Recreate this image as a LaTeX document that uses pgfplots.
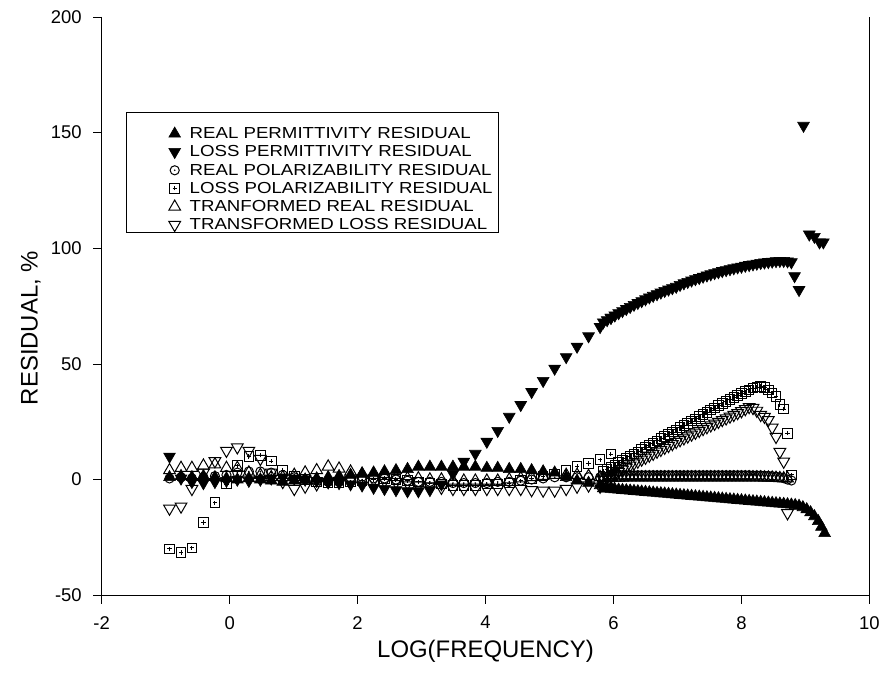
\documentclass[border=0pt]{standalone}
\usepackage{fontspec}
\setmainfont{Liberation Sans}
\newfontfamily\legfont[FakeStretch=1.17]{Liberation Sans}
\usepackage{pgfplots}
\usepackage{pgfplotstable}
\pgfplotsset{compat=1.18}
\pgfdeclareplotmark{odot}{%
  \pgfpathcircle{\pgfpointorigin}{\pgfplotmarksize}\pgfusepathqstroke
  \pgfpathcircle{\pgfpointorigin}{0.9pt}\pgfusepathqfill}
\pgfdeclareplotmark{sqplus}{%
  \pgfpathrectangle{\pgfpoint{-\pgfplotmarksize}{-\pgfplotmarksize}}{\pgfpoint{2\pgfplotmarksize}{2\pgfplotmarksize}}\pgfusepathqstroke
  \pgfpathmoveto{\pgfpoint{-0.45\pgfplotmarksize}{0pt}}\pgfpathlineto{\pgfpoint{0.45\pgfplotmarksize}{0pt}}
  \pgfpathmoveto{\pgfpoint{0pt}{-0.45\pgfplotmarksize}}\pgfpathlineto{\pgfpoint{0pt}{0.45\pgfplotmarksize}}\pgfusepathqstroke}

\pgfplotstableread{
x rp lp rpol lpol tr tl
-0.94 1.0 10.0 0.5 -30.0 4.0 -12.5
-0.76 1.5 0.5 1.0 -31.5 5.0 -11.6
-0.59 1.0 -1.0 0.5 -29.5 5.0 -4.0
-0.41 1.5 -1.5 1.0 -18.5 6.0 3.0
-0.23 1.0 -1.0 1.5 -10.0 6.5 8.0
-0.05 0.5 -0.5 2.0 -2.0 5.0 12.5
0.12 0.0 0.0 3.0 6.0 5.0 14.0
0.30 0.5 -0.5 3.5 10.0 3.0 12.5
0.48 0.0 0.0 3.5 10.5 2.0 9.0
0.65 -0.5 0.5 3.0 8.0 1.0 3.0
0.83 -1.0 1.0 2.0 4.0 1.0 -1.0
1.01 -0.5 0.5 1.0 1.5 2.0 -4.0
1.18 0.0 0.0 0.0 0.0 3.0 -3.0
1.36 0.5 -0.5 -0.5 -1.0 4.0 -2.0
1.54 1.0 -1.0 -1.0 -1.5 5.6 -1.0
1.71 1.5 -1.5 -1.0 -1.5 4.7 -0.5
1.89 2.0 -2.0 -0.5 -1.0 3.4 0.0
2.07 2.5 -2.5 0.0 -0.5 2.5 0.5
2.25 3.0 -3.5 0.5 0.0 2.0 0.0
2.42 3.5 -4.0 0.5 0.5 1.5 -0.5
2.60 4.0 -4.5 0.0 0.0 1.0 -1.0
2.78 4.5 -5.0 -0.5 -0.5 0.5 -1.5
2.95 5.5 -5.0 -1.0 -1.0 0.5 -2.5
3.13 5.5 -4.5 -1.0 -1.5 0.0 -3.0
3.31 5.5 -2.0 -1.0 -2.0 0.0 -3.5
3.49 5.5 2.5 -1.5 -2.5 -0.5 -4.0
3.66 5.5 7.8 -1.5 -2.5 -0.5 -4.0
3.84 5.5 11.2 -1.5 -2.5 -0.5 -4.0
4.02 5.0 16.4 -1.5 -2.0 -0.5 -4.0
4.19 5.0 21.1 -1.0 -2.0 -0.5 -4.0
4.37 4.5 27.2 -1.0 -1.5 0.0 -4.0
4.55 4.5 32.3 -0.5 -0.5 0.5 -4.0
4.72 4.0 37.9 0.0 0.5 1.0 -4.5
4.90 3.5 42.7 0.5 1.5 1.5 -4.7
5.08 3.0 48.0 1.0 2.5 2.0 -4.7
5.26 1.0 53.0 1.0 4.0 2.0 -4.0
5.43 -0.5 57.5 1.0 5.6 2.0 -3.0
5.61 -1.5 62.0 1.0 7.0 1.5 -2.5
5.79 -2.5 66.0 1.0 8.6 1.0 -3.0
5.96 -3.5 70.0 1.0 11.0 1.0 -1.0
}\lowdata

\pgfplotstableread{
x rp lp rpol lpol tr tl
5.84 -3.82 68.0 1.0 3.5 0.5 0.0
5.90 -3.96 69.0 1.3 4.4 0.6 0.8
5.96 -4.10 70.0 1.5 5.4 0.7 1.6
6.02 -4.25 71.0 1.8 6.3 0.8 2.5
6.08 -4.39 72.0 1.8 7.3 0.8 3.4
6.14 -4.54 72.9 1.9 8.2 0.8 4.3
6.20 -4.68 73.8 1.9 9.2 0.9 5.2
6.26 -4.82 74.7 1.9 10.1 0.9 6.1
6.32 -4.97 75.6 1.9 11.1 0.9 7.0
6.38 -5.11 76.4 1.9 12.0 0.9 7.8
6.44 -5.26 77.2 1.9 13.0 0.9 8.7
6.50 -5.40 78.0 1.9 13.9 0.9 9.5
6.56 -5.54 78.8 1.9 14.9 0.9 10.4
6.62 -5.69 79.5 1.9 15.8 0.9 11.2
6.68 -5.83 80.2 1.9 16.7 0.9 12.1
6.74 -5.98 80.9 1.9 17.7 0.9 12.9
6.80 -6.12 81.6 1.9 18.6 0.9 13.8
6.86 -6.26 82.2 1.9 19.6 0.9 14.6
6.92 -6.41 82.8 1.9 20.5 0.9 15.4
6.98 -6.55 83.4 1.9 21.5 0.9 16.3
7.04 -6.70 84.2 1.9 22.4 0.9 17.1
7.10 -6.84 84.9 1.9 23.4 0.9 17.9
7.16 -6.98 85.5 1.9 24.3 0.9 18.7
7.22 -7.13 86.1 1.9 25.3 0.9 19.5
7.28 -7.27 86.7 1.9 26.2 0.9 20.3
7.34 -7.42 87.2 1.9 27.2 0.9 21.1
7.40 -7.56 87.8 1.9 28.1 0.9 21.9
7.46 -7.70 88.3 1.9 29.0 0.9 22.7
7.52 -7.85 88.8 1.9 30.0 0.9 23.5
7.58 -7.99 89.3 1.9 30.9 0.9 24.2
7.64 -8.14 89.7 1.9 31.9 0.9 25.0
7.70 -8.28 90.2 1.9 32.8 0.9 25.8
7.76 -8.42 90.6 1.9 33.7 0.9 26.5
7.82 -8.57 91.0 1.9 34.6 0.9 27.3
7.88 -8.71 91.4 1.9 35.5 0.9 28.0
7.94 -8.86 91.8 1.9 36.4 0.9 28.8
8.00 -9.00 92.1 1.9 37.2 0.9 29.6
8.06 -9.14 92.5 1.9 38.0 0.9 30.5
8.12 -9.29 92.8 1.9 38.8 0.9 31.4
8.18 -9.43 93.1 1.8 39.5 0.9 31.0
8.24 -9.58 93.4 1.8 40.0 0.9 29.8
8.30 -9.72 93.7 1.8 40.2 0.9 28.0
8.36 -9.86 93.9 1.7 39.8 0.8 27.2
8.42 -10.01 94.1 1.6 38.8 0.8 25.8
8.48 -10.15 94.3 1.5 37.5 0.8 22.5
8.54 -10.30 94.5 1.3 36.0 0.7 18.5
8.60 -10.44 94.6 1.0 32.5 0.6 12.0
8.66 -10.58 94.6 0.6 30.5 0.5 7.8
8.72 -10.73 94.4 0.0 20.0 0.5 -14.5
}\highdata

\pgfplotstableread{
x y
8.78 -10.9
8.84 -11.1
8.90 -11.4
8.96 -12.0
9.02 -12.9
9.08 -14.2
9.14 -15.9
9.20 -18.0
9.25 -20.5
9.30 -23.2
}\rptail

\pgfplotstableread{
x y
8.78 94.0
8.83 88.0
8.90 82.0
8.97 153.0
9.06 106.0
9.14 105.0
9.22 102.6
9.28 102.6
}\lptail

\begin{document}
\begin{tikzpicture}
\begin{axis}[
  scale only axis, width=770pt, height=580pt,
  xmin=-2, xmax=10, ymin=-50, ymax=200,
  axis line style={draw=none},
  xtick={-2,0,2,4,6,8,10}, xticklabels={-2,0,2,4,6,8,10},
  ytick={-50,0,50,100,150,200}, yticklabels={-50,0,50,100,150,200},
  xtick pos=bottom, ytick pos=left, tick align=outside,
  major tick length=8.5pt, minor tick num=0,
  every tick/.style={black, line width=0.8pt},
  tick label style={font=\fontsize{18.5}{20}\selectfont},
  xticklabel style={yshift=-9pt},
  yticklabel style={xshift=-8pt},
  xlabel={LOG(FREQUENCY)},
  ylabel={RESIDUAL, \%},
  xlabel style={at={(rel axis cs:0.5,-0.1069)}, anchor=base, font=\fontsize{24}{26}\selectfont},
  ylabel style={at={(rel axis cs:-0.0922,0.462)}, anchor=center, font=\fontsize{24}{26}\selectfont},
  legend style={draw=none, fill=none, at={(rel axis cs:0.0325,0.810)}, anchor=north west,
    inner sep=0pt, row sep=5.4pt, column sep=0pt, font=\legfont\fontsize{16}{17}\selectfont,
    nodes={inner sep=0pt, anchor=west}},
  legend cell align=left,
  legend image code/.code={\path[draw=none,fill=none] (-48pt,-6pt) (15pt,6pt); \draw[#1] plot coordinates {(0pt,0pt)};},
  clip=false,
]
\addplot[only marks, mark=triangle*, mark size=6.8pt, black, line width=0.6pt] table[x=x,y=rp] {\lowdata};
\addlegendentry{REAL PERMITTIVITY RESIDUAL}
\addplot[only marks, mark=triangle*, mark size=6.8pt, mark options={rotate=180}, black, line width=0.6pt] table[x=x,y=lp] {\lowdata};
\addlegendentry{LOSS PERMITTIVITY RESIDUAL}
\addplot[only marks, mark=odot, mark size=4.6pt, black, line width=1.0pt] table[x=x,y=rpol] {\lowdata};
\addlegendentry{REAL POLARIZABILITY RESIDUAL}
\addplot[only marks, mark=sqplus, mark size=4.8pt, black, line width=1.0pt] table[x=x,y=lpol] {\lowdata};
\addlegendentry{LOSS POLARIZABILITY RESIDUAL}
\addplot[only marks, mark=triangle, mark size=6.8pt, black, line width=1.0pt] table[x=x,y=tr] {\lowdata};
\addlegendentry{TRANFORMED REAL RESIDUAL}
\addplot[only marks, mark=triangle, mark size=6.8pt, mark options={rotate=180}, black, line width=1.0pt] table[x=x,y=tl] {\lowdata};
\addlegendentry{TRANSFORMED LOSS RESIDUAL}

\addplot[only marks, mark=triangle*, mark size=6.8pt, black, line width=0.6pt, forget plot] table[x=x,y=rp] {\highdata};
\addplot[only marks, mark=triangle*, mark size=6.8pt, black, line width=0.6pt, forget plot] table[x=x,y=y] {\rptail};
\addplot[only marks, mark=triangle*, mark size=6.8pt, mark options={rotate=180}, black, line width=0.6pt, forget plot] table[x=x,y=lp] {\highdata};
\addplot[only marks, mark=triangle*, mark size=6.8pt, mark options={rotate=180}, black, line width=0.6pt, forget plot] table[x=x,y=y] {\lptail};
\addplot[only marks, mark=odot, mark size=4.6pt, black, line width=1.0pt, forget plot] table[x=x,y=rpol] {\highdata};
\addplot[only marks, mark=odot, mark size=4.6pt, black, line width=1.0pt, forget plot] coordinates {(8.78,-0.4)};
\addplot[only marks, mark=sqplus, mark size=4.8pt, black, line width=1.0pt, forget plot] table[x=x,y=lpol] {\highdata};
\addplot[only marks, mark=sqplus, mark size=4.8pt, black, line width=1.0pt, forget plot] coordinates {(8.78,2.0)};
\addplot[only marks, mark=triangle, mark size=6.8pt, black, line width=1.0pt, forget plot] table[x=x,y=tr] {\highdata};
\addplot[only marks, mark=triangle, mark size=6.8pt, mark options={rotate=180}, black, line width=1.0pt, forget plot] table[x=x,y=tl] {\highdata};

\draw[black, line width=0.8pt] (rel axis cs:0,1) -- (rel axis cs:0,0) -- (rel axis cs:1,0) -- (rel axis cs:1,1);
\draw[black, line width=0.6pt] (rel axis cs:0.0325,0.8345) rectangle (rel axis cs:0.5169,0.6276);
\end{axis}
\path (current axis.south west) ++(-102pt,-79pt) rectangle ++(883pt,676pt);
\end{tikzpicture}
\end{document}
